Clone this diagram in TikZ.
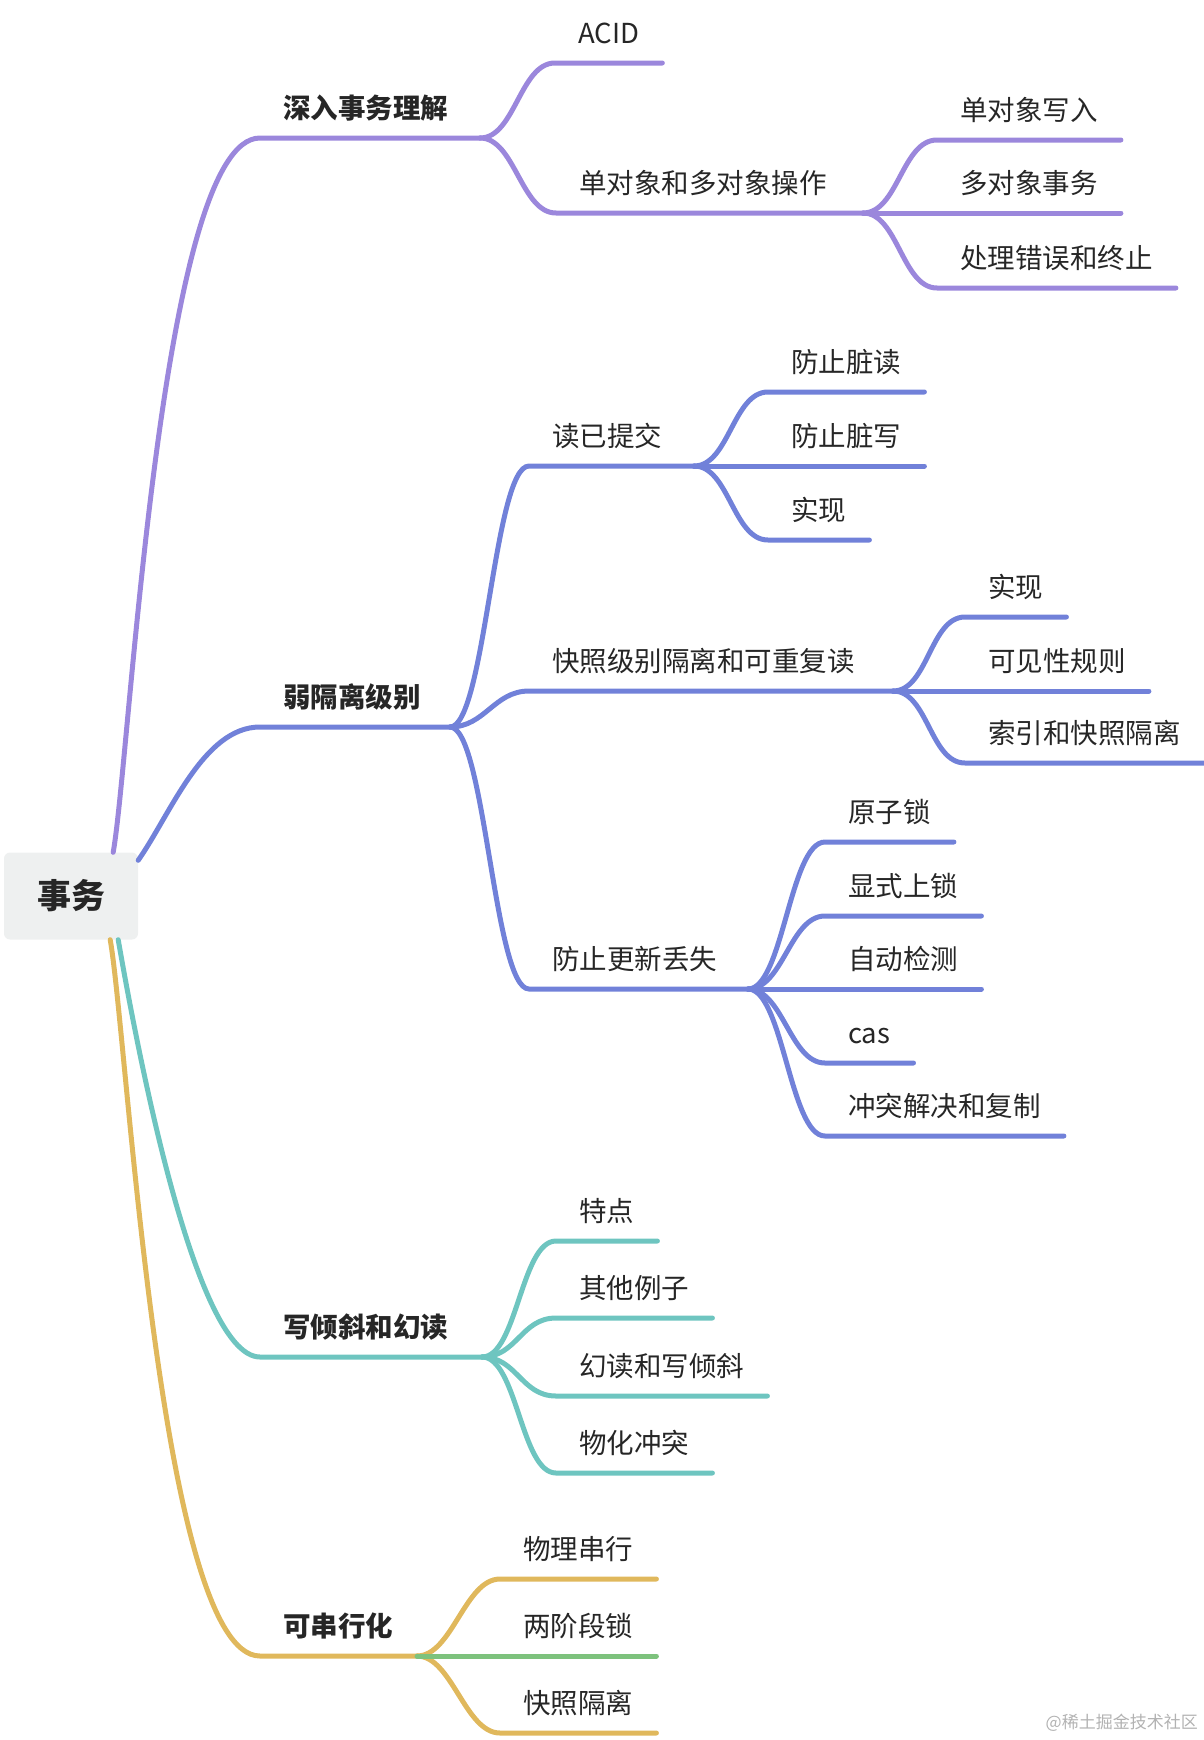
\documentclass[tikz,border=0pt]{standalone}
\usepackage{fontspec}
\setmainfont{Noto Sans CJK SC}
\usetikzlibrary{calc}
\definecolor{tpurple}{HTML}{9B87DC}
\definecolor{tblue}{HTML}{7181D9}
\definecolor{tteal}{HTML}{6EC5C0}
\definecolor{tgold}{HTML}{E0B85C}
\definecolor{tgreen}{HTML}{7DC27D}
\definecolor{rootbg}{HTML}{EEF0F0}
\tikzset{
  topic/.style={anchor=south west,inner xsep=23pt,inner ysep=19pt,text depth=0pt,text=black!85,font=\fontsize{27.5pt}{33pt}\selectfont},
  main/.style={topic,font=\fontsize{27.5pt}{33pt}\selectfont\bfseries},
  edge/.style={line width=5pt,line cap=round},
  kid/.style={out=0,in=180,distance=35pt},
}

\begin{document}
\begin{tikzpicture}[x=1pt,y=1pt]
  \useasboundingbox (0,0) rectangle (1204,-1740);
  \node[fill=rootbg,rounded corners=6pt,minimum width=134pt,minimum height=87pt,font=\fontsize{34pt}{40pt}\selectfont\bfseries,text=black!85] (root) at (71,-896) {事务};

  \node[main] (deep) at (260,-138) {深入事务理解};
  \coordinate (deep-j) at (480,-138);
  \node[topic] (acid) at (555,-63) {ACID};
  \node[topic] (objops) at (556,-213) {单对象和多对象操作};
  \coordinate (objops-j) at (863,-213);
  \node[topic] (single) at (937,-140) {单对象写入};
  \node[topic] (multi) at (937,-213) {多对象事务};
  \node[topic] (abort) at (937,-288) {处理错误和终止};
  \draw[edge,tpurple] ($(root.north east)+(-25,0)$) to[out=80,in=180,looseness=0.35] (deep.south west) -- (deep-j);
  \draw[edge,tpurple] (deep-j) to[kid] (acid.south west) -- (acid.south east);
  \draw[edge,tpurple] (deep-j) to[kid] (objops.south west) -- (objops-j);
  \draw[edge,tpurple] (objops-j) to[kid] (single.south west) -- (single.south east);
  \draw[edge,tpurple] (objops-j) to[kid] (multi.south west) -- (multi.south east);
  \draw[edge,tpurple] (objops-j) to[kid] (abort.south west) -- (abort.south east);

  \node[main] (weak) at (260,-727) {弱隔离级别};
  \coordinate (weak-j) at (450,-727);
  \node[topic] (rc) at (529,-466) {读已提交};
  \coordinate (rc-j) at (694,-466);
  \node[topic] (nodr) at (768,-392) {防止脏读};
  \node[topic] (nodw) at (768,-466) {防止脏写};
  \node[topic] (rcimpl) at (768,-540) {实现};
  \node[topic] (si) at (529,-691) {快照级别隔离和可重复读};
  \coordinate (si-j) at (893,-691);
  \node[topic] (siimpl) at (965,-617) {实现};
  \node[topic] (vis) at (965,-691) {可见性规则};
  \node[topic] (idx) at (965,-763) {索引和快照隔离};
  \node[topic] (lost) at (529,-989) {防止更新丢失};
  \coordinate (lost-j) at (748,-989);
  \node[topic] (atomic) at (825,-842) {原子锁};
  \node[topic] (explicit) at (825,-916) {显式上锁};
  \node[topic] (detect) at (825,-989) {自动检测};
  \node[topic] (cas) at (825,-1063) {cas};
  \node[topic] (conflict) at (825,-1136) {冲突解决和复制};
  \draw[edge,tblue] ($(root.north east)+(0,-8)$) to[out=55,in=180,looseness=0.8] (weak.south west) -- (weak-j);
  \draw[edge,tblue] (weak-j) to[kid] (rc.south west) -- (rc-j);
  \draw[edge,tblue] (weak-j) to[kid] (si.south west) -- (si-j);
  \draw[edge,tblue] (weak-j) to[kid] (lost.south west) -- (lost-j);
  \draw[edge,tblue] (rc-j) to[kid] (nodr.south west) -- (nodr.south east);
  \draw[edge,tblue] (rc-j) to[kid] (nodw.south west) -- (nodw.south east);
  \draw[edge,tblue] (rc-j) to[kid] (rcimpl.south west) -- (rcimpl.south east);
  \draw[edge,tblue] (si-j) to[kid] (siimpl.south west) -- (siimpl.south east);
  \draw[edge,tblue] (si-j) to[kid] (vis.south west) -- (vis.south east);
  \draw[edge,tblue] (si-j) to[kid] (idx.south west) -- (idx.south east);
  \draw[edge,tblue] (lost-j) to[kid] (atomic.south west) -- (atomic.south east);
  \draw[edge,tblue] (lost-j) to[kid] (explicit.south west) -- (explicit.south east);
  \draw[edge,tblue] (lost-j) to[kid] (detect.south west) -- (detect.south east);
  \draw[edge,tblue] (lost-j) to[kid] (cas.south west) -- (cas.south east);
  \draw[edge,tblue] (lost-j) to[kid] (conflict.south west) -- (conflict.south east);

  \node[main] (skew) at (260,-1357) {写倾斜和幻读};
  \coordinate (skew-j) at (482,-1357);
  \node[topic] (trait) at (556,-1241) {特点};
  \node[topic] (example) at (556,-1318) {其他例子};
  \node[topic] (phantom) at (556,-1396) {幻读和写倾斜};
  \node[topic] (material) at (556,-1473) {物化冲突};
  \draw[edge,tteal] ($(root.south east)+(-20,0)$) to[out=-80,in=180,looseness=0.4] (skew.south west) -- (skew-j);
  \draw[edge,tteal] (skew-j) to[kid] (trait.south west) -- (trait.south east);
  \draw[edge,tteal] (skew-j) to[kid] (example.south west) -- (example.south east);
  \draw[edge,tteal] (skew-j) to[kid] (phantom.south west) -- (phantom.south east);
  \draw[edge,tteal] (skew-j) to[kid] (material.south west) -- (material.south east);

  \node[main] (serial) at (260,-1656) {可串行化};
  \coordinate (serial-j) at (417,-1656);
  \node[topic] (actual) at (500,-1579) {物理串行};
  \node[topic] (twopl) at (500,-1656) {两阶段锁};
  \node[topic] (ssi) at (500,-1733) {快照隔离};
  \draw[edge,tgold] ($(root.south east)+(-28,0)$) to[out=-80,in=180,looseness=0.35] (serial.south west) -- (serial-j);
  \draw[edge,tgold] (serial-j) to[kid] (actual.south west) -- (actual.south east);
  \draw[edge,tgold] (serial-j) to[kid] (ssi.south west) -- (ssi.south east);
  \draw[edge,tgreen] (serial-j) -- (twopl.south east);

  \node[anchor=east,inner sep=0pt,text=gray!60,font=\fontsize{17pt}{20pt}\selectfont] (mark) at (1198,-1723) {@稀土掘金技术社区};
\end{tikzpicture}
\end{document}
